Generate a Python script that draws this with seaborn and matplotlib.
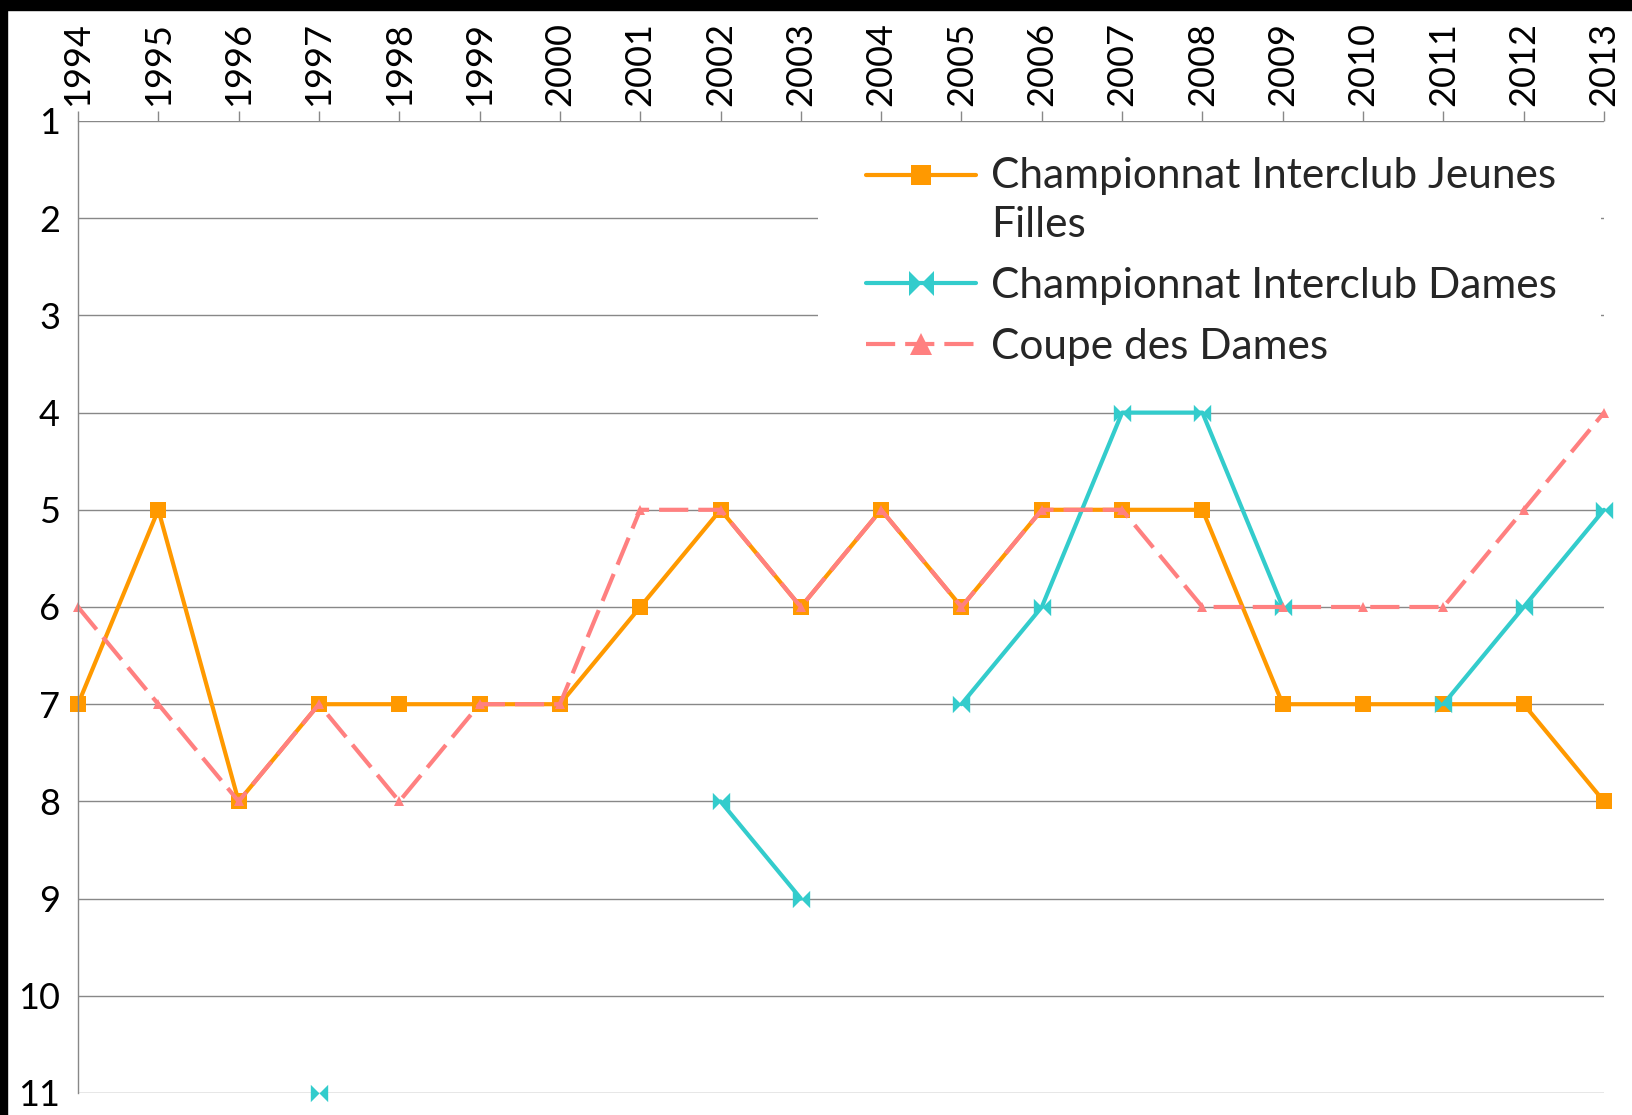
import numpy as np
import pandas as pd
import matplotlib.pyplot as plt
import seaborn as sns
from matplotlib.lines import Line2D
from matplotlib.patches import Rectangle

# Données (classement, NaN = pas de participation)
annees = list(range(1994, 2014))
jeunes_filles = [7, 5, 8, 7, 7, 7, 7, 6, 5, 6, 5, 6, 5, 5, 5, 7, 7, 7, 7, 8]
dames = [np.nan, np.nan, np.nan, 11, np.nan, np.nan, np.nan, np.nan, 8, 9,
         np.nan, 7, 6, 4, 4, 6, np.nan, 7, 6, 5]
coupe = [6, 7, 8, 7, 8, 7, 7, 5, 5, 6, 5, 6, 5, 5, 6, 6, 6, 6, 5, 4]

noms = ['Championnat Interclub Jeunes\nFilles', 'Championnat Interclub Dames', 'Coupe des Dames']
couleurs = ['#FF9900', '#33CCCC', '#FF8080']
noeud = [(-1, -1), (0, 0), (1, -1), (1, 1), (0, 0), (-1, 1)]
marqueurs = ['s', noeud, '^']
tailles = [12, 12.5, 7.5]
tailles_legende = [15, 18, 16]
traits = ['-', '-', (0, (7, 2.4))]

sns.set_theme(style="white")
plt.rcParams['font.family'] = ['Lato', 'DejaVu Sans']

fig = plt.figure(figsize=(16.32, 11.15), dpi=100)
ax = fig.add_axes([78 / 1632, 22 / 1115, 1526 / 1632, 972 / 1115])

for nom, valeurs, c, m, t, ls in zip(noms, [jeunes_filles, dames, coupe], couleurs, marqueurs, tailles, traits):
    df = pd.DataFrame({'annee': annees, 'rang': valeurs})
    # découper en segments aux valeurs manquantes
    df['segment'] = df['rang'].isna().cumsum()
    df = df.dropna()
    sns.lineplot(data=df, x='annee', y='rang', units='segment', estimator=None,
                 color=c, marker=m, markersize=t, markeredgewidth=0, linewidth=3,
                 linestyle=ls, ax=ax, clip_on=False, legend=False)

ax.set_xlim(1994, 2013)
ax.set_ylim(11, 1)
ax.set_xticks(annees)
ax.set_yticks(range(1, 12))
ax.set_xlabel('')
ax.set_ylabel('')
ax.xaxis.tick_top()
ax.tick_params(axis='x', labelrotation=90, labelsize=26, length=7, width=1, color='#888888', pad=4)
ax.tick_params(axis='y', labelsize=26, length=7, width=1, color='#888888', pad=6)
for lab in ax.get_xticklabels() + ax.get_yticklabels():
    lab.set_color('black')

ax.grid(axis='y', color='#888888', linewidth=1)
ax.set_axisbelow(True)
for s in ['top', 'right', 'bottom']:
    ax.spines[s].set_visible(False)
ax.spines['left'].set_color('#888888')
ax.spines['left'].set_linewidth(1)

# fond blanc de la légende (masque les lignes de grille 2 et 3)
ax.add_patch(Rectangle((0.485, 0.74), 0.513, 0.22, transform=ax.transAxes,
                       facecolor='white', edgecolor='none', zorder=1))

poignees = [Line2D([0], [0], color=c, marker=m, markersize=t, markeredgewidth=0, linewidth=3, linestyle=ls)
            for c, m, t, ls in zip(couleurs, marqueurs, tailles_legende, traits)]
leg = ax.legend(poignees, noms, loc='upper left', bbox_to_anchor=(0.5027, 0.985), fontsize=30.5,
                frameon=False, handlelength=2.6, handletextpad=0.35, labelspacing=0.55, borderpad=0)
for t in leg.get_texts():
    t.set_linespacing(1.35)
# aligner le premier symbole sur la première ligne du texte
h0 = leg.legend_handles[0]
h0.set_ydata(np.asarray(h0.get_ydata()) + 18.5)

# cadre noir en haut et à gauche
fig.add_artist(Rectangle((0, 1 - 10 / 1115), 1, 10 / 1115, transform=fig.transFigure, color='black'))
fig.add_artist(Rectangle((0, 0), 7 / 1632, 1, transform=fig.transFigure, color='black'))

fig.savefig('out.png', dpi=100)
